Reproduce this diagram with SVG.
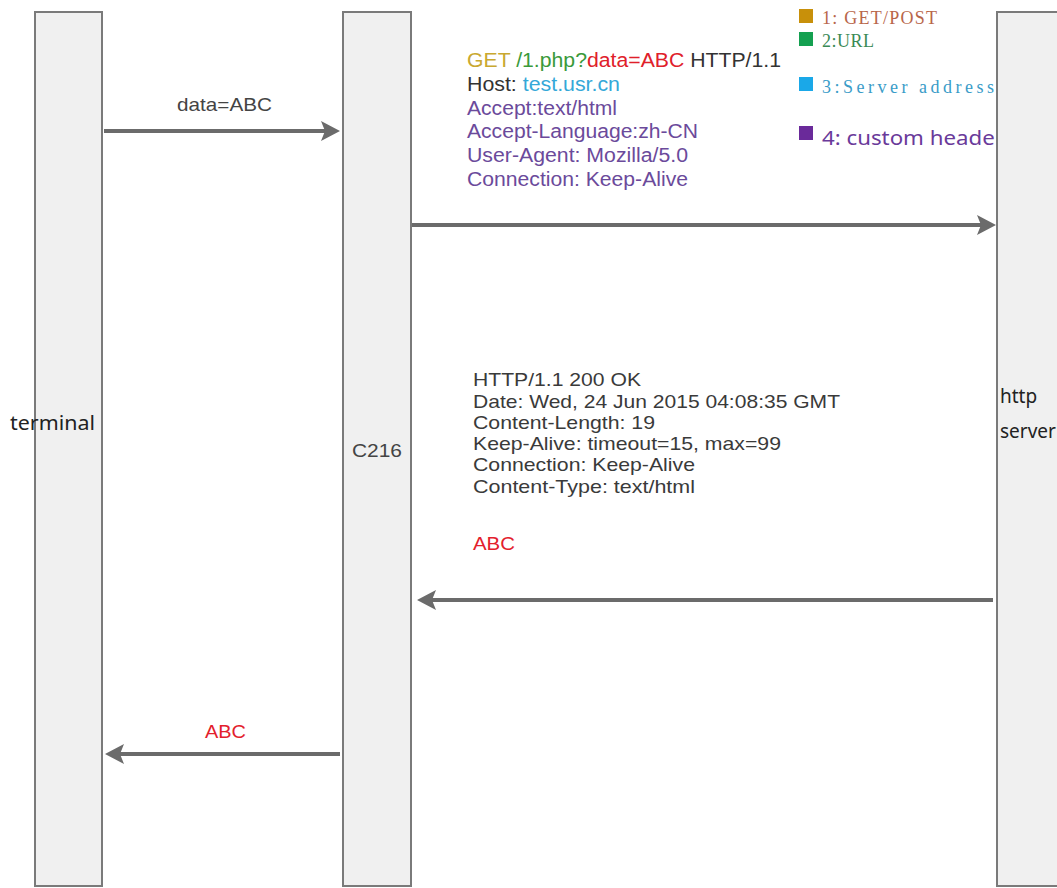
<svg xmlns="http://www.w3.org/2000/svg" width="1057" height="888" viewBox="0 0 1057 888">
<style>
.col{fill:#f0f0f0;stroke:#7a7a7a;stroke-width:2}
.conn{stroke:#6b6b6b;stroke-width:4;fill:none;marker-end:url(#ah)}
.sans{font-family:"Liberation Sans",Arial,sans-serif}
.lbl{font-family:"Noto Sans","Open Sans",sans-serif;fill:#222}
.mono{font-family:"Liberation Serif","Times New Roman",serif;font-size:18px}
.req{font-size:20px}
.resp{font-size:19px;fill:#3a3a3a}
.purple{fill:#6b4a9b}
.red{fill:#e3202c}
</style>
<defs>
<marker id="ah" viewBox="0 0 19 20" markerUnits="userSpaceOnUse" markerWidth="19" markerHeight="20" refX="7" refY="10" orient="auto">
<path d="M0,0 L19,10 L0,20 L4,10 z" fill="#6b6b6b"/>
</marker>
</defs>
<rect width="1057" height="888" fill="#ffffff"/>

<g id="legend">
<rect x="799" y="9" width="14" height="14" fill="#c8900a"/>
<text x="822" y="24" class="mono" fill="#b8664a" textLength="115" lengthAdjust="spacing">1: GET/POST</text>
<rect x="799" y="32" width="14" height="14" fill="#14a050"/>
<text x="822" y="47" class="mono" fill="#3a8a55" textLength="52" lengthAdjust="spacing">2:URL</text>
<rect x="799" y="77" width="14" height="14" fill="#1aa8e8"/>
<text x="822" y="93" class="mono" fill="#3a9cc8" textLength="172" lengthAdjust="spacing">3:Server address</text>
<rect x="799" y="126" width="14" height="14" fill="#6a2a9a"/>
<text x="822" y="145" font-family="Noto Sans, Open Sans, sans-serif" font-size="20" fill="#6a3a9a" textLength="182" lengthAdjust="spacingAndGlyphs">4: custom header</text>
</g>

<g id="terminal">
<rect class="col" x="35" y="12" width="67" height="874"/>
<text x="10" y="430" class="lbl" font-size="19" textLength="85" lengthAdjust="spacingAndGlyphs">terminal</text>
</g>

<g id="c216">
<rect class="col" x="343" y="12" width="68" height="874"/>
<text x="352" y="457" class="sans" font-size="19" fill="#444" textLength="50" lengthAdjust="spacingAndGlyphs">C216</text>
</g>

<g id="http-server">
<rect class="col" x="997" y="12" width="80" height="874"/>
<text x="1000" y="403" class="lbl" font-size="19">http</text>
<text x="1000" y="438" class="lbl" font-size="19">server</text>
</g>

<g id="connectors">
<line class="conn" x1="104" y1="131" x2="328" y2="131"/>
<line class="conn" x1="412" y1="225" x2="984" y2="225"/>
<line class="conn" x1="993" y1="600" x2="429" y2="600"/>
<line class="conn" x1="340" y1="754" x2="117" y2="754"/>
</g>

<g id="labels">
<text x="177" y="111" class="sans" font-size="19" fill="#444" textLength="95" lengthAdjust="spacingAndGlyphs">data=ABC</text>
<text x="205" y="738" class="sans red" font-size="19" textLength="41" lengthAdjust="spacingAndGlyphs">ABC</text>
</g>

<g id="request" class="sans req">
<text x="467" y="67" textLength="314" lengthAdjust="spacingAndGlyphs"><tspan fill="#c9a830">GET </tspan><tspan fill="#3a9a3a">/1.php?</tspan><tspan fill="#e0202a">data=ABC</tspan><tspan fill="#333"> HTTP/1.1</tspan></text>
<text x="467" y="91" textLength="153" lengthAdjust="spacingAndGlyphs"><tspan fill="#333">Host: </tspan><tspan fill="#35a8d8">test.usr.cn</tspan></text>
<text x="467" y="115" class="purple" textLength="150" lengthAdjust="spacingAndGlyphs">Accept:text/html</text>
<text x="467" y="138" class="purple" textLength="231" lengthAdjust="spacingAndGlyphs">Accept-Language:zh-CN</text>
<text x="467" y="162" class="purple" textLength="221" lengthAdjust="spacingAndGlyphs">User-Agent: Mozilla/5.0</text>
<text x="467" y="186" class="purple" textLength="221" lengthAdjust="spacingAndGlyphs">Connection: Keep-Alive</text>
</g>

<g id="response" class="sans resp">
<text x="473" y="386" textLength="168" lengthAdjust="spacingAndGlyphs">HTTP/1.1 200 OK</text>
<text x="473" y="408" textLength="367" lengthAdjust="spacingAndGlyphs">Date: Wed, 24 Jun 2015 04:08:35 GMT</text>
<text x="473" y="429" textLength="182" lengthAdjust="spacingAndGlyphs">Content-Length: 19</text>
<text x="473" y="450" textLength="308" lengthAdjust="spacingAndGlyphs">Keep-Alive: timeout=15, max=99</text>
<text x="473" y="471" textLength="222" lengthAdjust="spacingAndGlyphs">Connection: Keep-Alive</text>
<text x="473" y="493" textLength="222" lengthAdjust="spacingAndGlyphs">Content-Type: text/html</text>
<text x="473" y="550" class="red" textLength="42" lengthAdjust="spacingAndGlyphs">ABC</text>
</g>
</svg>
